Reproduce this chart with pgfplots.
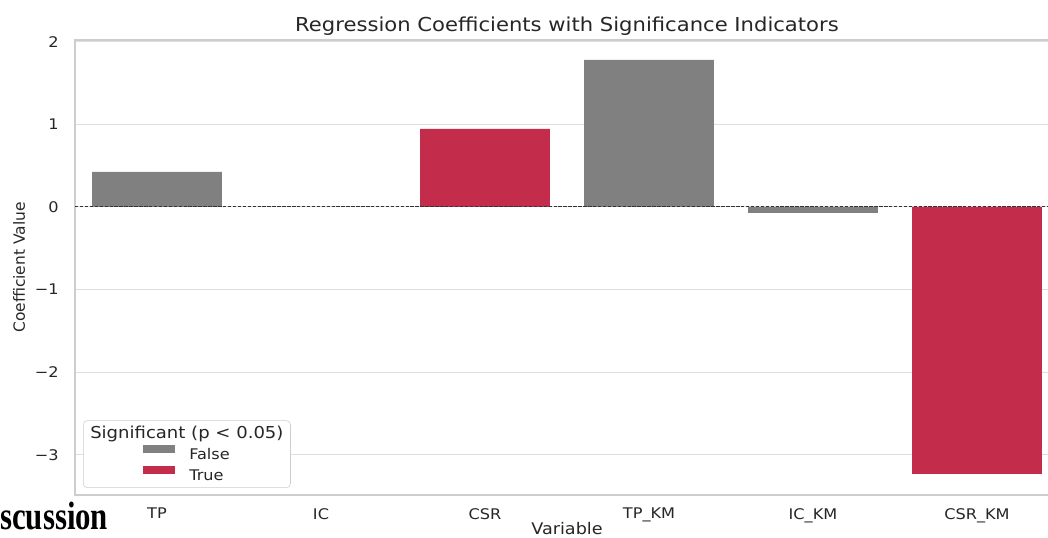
\documentclass[border=0pt]{standalone}
\usepackage{fontspec}
\setmainfont{DejaVu Sans}[FakeStretch=1.1]
\newfontfamily\ylfont{DejaVu Sans}
\newfontfamily\serfont{Liberation Serif}
\usepackage{pgfplots}
\pgfplotsset{compat=1.18}
\definecolor{barGray}{RGB}{128,128,128}
\definecolor{barRed}{RGB}{196,44,75}
\definecolor{gridc}{RGB}{222,222,222}
\definecolor{spinec}{RGB}{205,205,205}
\definecolor{txt}{RGB}{38,38,38}
\pgfplotsset{patchlegend/.style={legend image code/.code={%
    \path[draw=none, fill=none] (0pt,0pt) rectangle (63.75pt,1pt);
    \fill[##1, draw=none, sharp corners] (39.75pt,0.75pt) rectangle (63.75pt,6.75pt);}}}
\begin{document}
\begin{tikzpicture}
\begin{axis}[
  at={(0pt,0pt)}, anchor=south west,
  width=738pt, height=341.25pt, scale only axis,
  xmin=-0.5, xmax=5.5, ymin=-3.485, ymax=2.02,
  xtick={0,1,2,3,4,5}, xticklabels={TP,IC,CSR,TP\_KM,IC\_KM,CSR\_KM},
  ytick={-3,-2,-1,0,1,2}, yticklabels={−3,−2,−1,0,1,2},
  major tick length=0pt,
  ymajorgrids, grid style={gridc, line width=0.75pt},
  axis line style={spinec, line width=1pt},
  tick label style={font=\fontsize{11}{13}\selectfont, text=txt},
  xticklabel style={anchor=north, inner sep=0pt, yshift=-9.75pt},
  yticklabel style={anchor=east, inner sep=0pt, xshift=-12pt},
  every axis title shift=0pt,
  title={Regression Coefficients with Significance Indicators},
  title style={at={(axis description cs:0.5,1.01758)}, anchor=base, inner sep=0pt,
    font=\fontsize{14.4}{17}\selectfont, text=txt},
  xlabel={Variable},
  xlabel style={at={(axis description cs:0.5,-0.0879)}, anchor=base, inner sep=0pt,
    font=\fontsize{12}{14}\selectfont, text=txt},
  ylabel={Coefficient Value},
  ylabel style={at={(axis description cs:-0.0569,0.5)}, anchor=center, inner sep=0pt,
    font=\ylfont\fontsize{11.6}{14}\selectfont, text=txt},
  legend cell align=left,
  legend style={at={(axis description cs:0.00813,0.01538)}, anchor=south west,
    draw=spinec, rounded corners=3pt, fill=white,
    inner xsep=5.25pt, inner ysep=1.5pt, row sep=0pt, column sep=10.5pt,
    nodes={inner sep=0pt, text height=12pt, text depth=3.75pt,
      font=\fontsize{11}{13}\selectfont, text=txt}},
]
\addlegendimage{empty legend}
\addlegendentry{\hspace*{-74.25pt}\fontsize{12.3}{14}\selectfont Significant (p < 0.05)}
\addplot[ybar, bar width=0.79, bar shift=0pt, fill=barGray, draw=none, patchlegend]
  coordinates {(0,0.423) (1,0) (3,1.779) (4,-0.073)};
\addlegendentry{False}
\addplot[ybar, bar width=0.79, bar shift=0pt, fill=barRed, draw=none, patchlegend]
  coordinates {(2,0.944) (5,-3.23)};
\addlegendentry{True}
\addplot[forget plot, sharp plot, black!80, line width=0.8pt,
  dash pattern=on 2.6pt off 1.1pt] coordinates {(-0.5,0) (5.5,0)};
\end{axis}
\node[anchor=base west, inner sep=0pt] at (-56.25pt,-26.25pt)
  {\scalebox{1.05}[1.35]{\serfont\bfseries\fontsize{22}{26}\selectfont scussion}};
\pgfresetboundingbox
\useasboundingbox (-56.25pt,-32.25pt) rectangle (729.75pt,371.25pt);
\end{tikzpicture}
\end{document}
